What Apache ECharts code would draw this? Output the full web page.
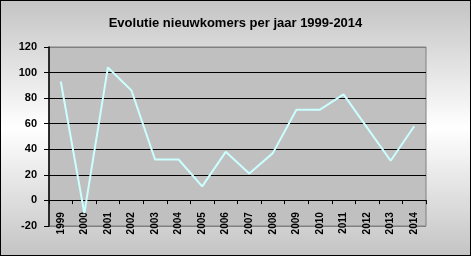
<!DOCTYPE html>
<html><head><meta charset="utf-8">
<script src="https://cdn.jsdelivr.net/npm/echarts@6/dist/echarts.min.js"></script>
<style>html,body{margin:0;padding:0;}#c{width:471px;height:256px;box-sizing:border-box;border:1px solid #000;}</style>
</head><body><div id="c"></div>
<script>
const titleText = 'Evolutie nieuwkomers per jaar 1999-2014';
const years = ['1999','2000','2001','2002','2003','2004','2005','2006','2007','2008','2009','2010','2011','2012','2013','2014'];
const newcomers = [93, -10, 104, 86, 32, 32, 11, 38, 21, 37, 71, 71, 83, 57, 31, 58];
const yMin = -20, yMax = 120, yStep = 20;

const gridTop = 46, gridBottom = 29, H = 256;
const plotH = H - gridTop - gridBottom;
const zeroOffset = -plotH * (0 - yMin) / (yMax - yMin);

const chart = echarts.init(document.getElementById('c'), null, {renderer:'canvas'});
chart.setOption({
  animation: false,
  backgroundColor: {type:'linear', x:0, y:0, x2:0, y2:1, colorStops:[
    {offset:0, color:'#c4c4c4'}, {offset:0.5, color:'#ffffff'}, {offset:1, color:'#c4c4c4'}]},
  title: {text: titleText, left: 'center', top: 11,
    textStyle:{fontFamily:'Liberation Sans', fontWeight:'bold', fontSize:13, color:'#000'}},
  grid: {left: 48, right: 44, top: gridTop, bottom: gridBottom, show: true, containLabel:false, outerBoundsMode:'none',
    backgroundColor:'#c0c0c0', borderColor:'#808080', borderWidth:1},
  xAxis: {type:'category', data: years, boundaryGap: true, position:'bottom', offset: zeroOffset,
    axisLine:{onZero:false, lineStyle:{color:'#000', width:1}},
    axisTick:{show:true, length:4, lineStyle:{color:'#000'}},
    axisLabel:{rotate:90, margin:12, fontFamily:'Liberation Sans', fontWeight:'bold', fontSize:10, color:'#000'}},
  yAxis: {type:'value', min:yMin, max:yMax, interval:yStep,
    axisLine:{show:true, lineStyle:{color:'#000', width:1.5}},
    axisTick:{show:true, length:5, lineStyle:{color:'#000'}},
    axisLabel:{margin:12, fontFamily:'Liberation Sans', fontWeight:'bold', fontSize:11, color:'#000'},
    splitLine:{show:true, lineStyle:{color:['#808080','#000','#000','#000','#000','#000','#000','#808080'], width:1}}},
  series: [{type:'line', data: newcomers, showSymbol:false, symbol:'none',
    lineStyle:{color:'#ccffff', width:2}}]
});
</script></body></html>
